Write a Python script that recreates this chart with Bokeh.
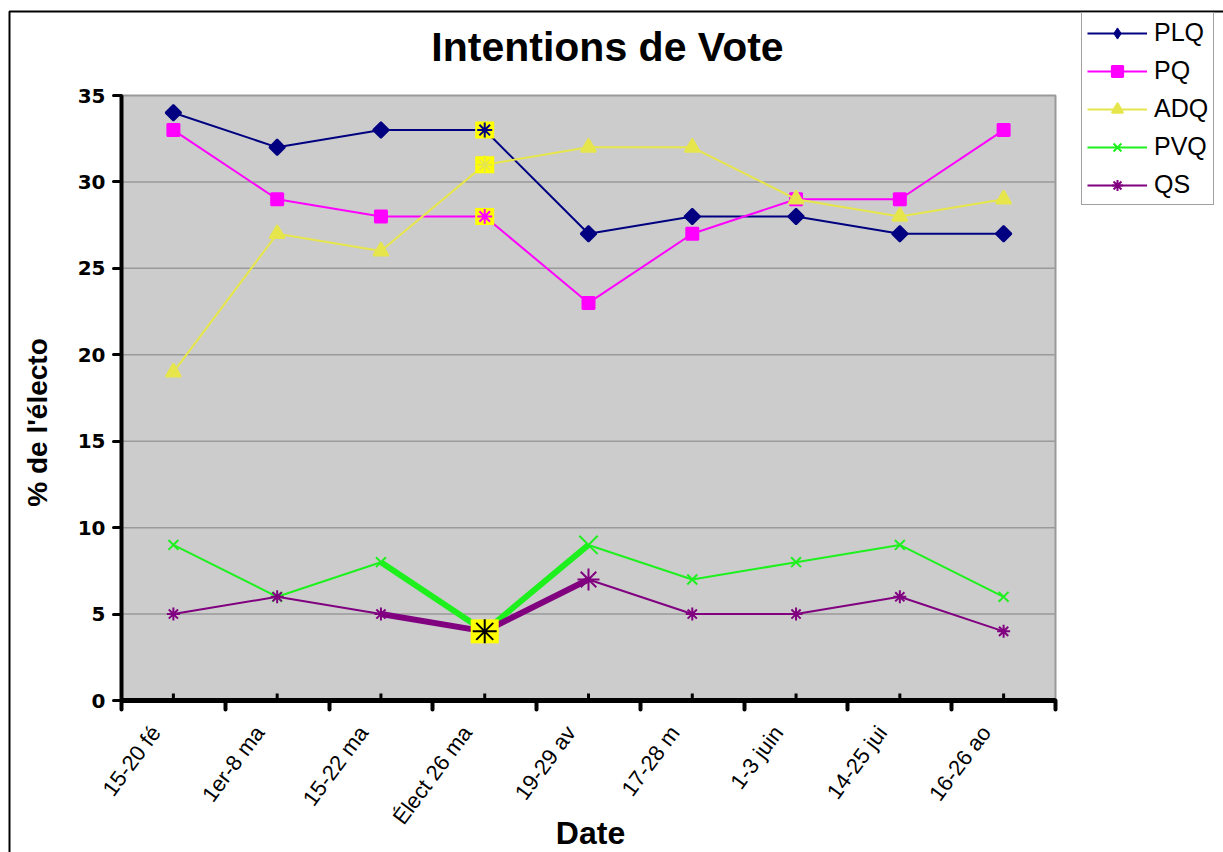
import numpy as np
from bokeh.plotting import figure
from bokeh.models import (Range1d, FixedTicker, Label, Legend, LegendItem, BoxAnnotation,
                          ColumnDataSource, CDSView, IndexFilter)
from bokeh.embed import file_html
from bokeh.resources import INLINE

# ---- data ----
categories = ["15-20 fé", "1er-8 ma", "15-22 ma", "Élect 26 ma", "19-29 av",
              "17-28 m", "1-3 juin", "14-25 jui", "16-26 ao"]
plq = [34, 32, 33, 33, 27, 28, 28, 27, 27]
pq = [33, 29, 28, 28, 23, 27, 29, 29, 33]
adq = [19, 27, 26, 31, 32, 32, 29, 28, 29]
pvq = [9, 6, 8, 4, 9, 7, 8, 9, 6]
qs = [5, 6, 5, 4, 7, 5, 5, 6, 4]
y_ticks = [0, 5, 10, 15, 20, 25, 30, 35]
series_names = ["PLQ", "PQ", "ADQ", "PVQ", "QS"]
title_text = "Intentions de Vote"
x_label = "Date"
y_label = "% de l'électo"

ELECT = 3   # highlighted category (election)
AFTER = 4   # category after the election

# ---- layout (page pixels) ----
W, H = 1223, 852
PA_LEFT, PA_RIGHT, PA_TOP, PA_BOTTOM = 121, 1055, 95, 700
LABEL_SHIFT = 0.17   # category labels sit slightly left of the category centre

n = len(categories)
ymax = y_ticks[-1]
x = np.arange(n) + 0.5
ux = (PA_RIGHT - PA_LEFT) / n
uy = (PA_BOTTOM - PA_TOP) / ymax

p = figure(width=W, height=H, output_backend="svg", toolbar_location=None,
           x_range=Range1d(-PA_LEFT / ux, n + (W - PA_RIGHT) / ux),
           y_range=Range1d(-(H - PA_BOTTOM) / uy, ymax + PA_TOP / uy),
           min_border=0)
p.background_fill_color = "white"
p.border_fill_color = "white"
p.outline_line_color = None
p.grid.visible = False

# outer chart border (only top/left visible in the window)
p.add_layout(BoxAnnotation(left=9, right=3000, top=H - 11, bottom=-500,
                           left_units="screen", right_units="screen",
                           top_units="screen", bottom_units="screen",
                           fill_color=None, fill_alpha=0, line_color="black",
                           line_alpha=1, line_width=2))

# plot area
p.quad(left=[0], right=[n], bottom=[0], top=[ymax], fill_color="#CCCCCC",
       line_color="#999999", line_width=2)
grid_vals = y_ticks[1:-1]
p.segment(x0=[0] * len(grid_vals), x1=[n] * len(grid_vals), y0=grid_vals, y1=grid_vals,
          line_color="#9A9A9A", line_width=1.5)

# y axis
ya = p.yaxis[0]
ya.fixed_location = 0
ya.bounds = (0, ymax)
ya.ticker = FixedTicker(ticks=y_ticks)
ya.axis_line_width = 4
ya.axis_line_color = "black"
ya.major_tick_out = 8
ya.major_tick_in = 0
ya.major_tick_line_width = 3
ya.major_tick_line_cap = "round"
ya.minor_tick_line_color = None
ya.major_label_text_font = "DejaVu Sans"
ya.major_label_text_font_style = "bold"
ya.major_label_text_font_size = "20px"
ya.major_label_text_color = "black"
ya.major_label_standoff = 8

# x axis
label_pos = x - LABEL_SHIFT
xa = p.xaxis[0]
xa.fixed_location = 0
xa.bounds = (0, n)
xa.ticker = FixedTicker(ticks=list(label_pos), minor_ticks=list(range(n + 1)))
xa.major_label_overrides = {float(xv): c for xv, c in zip(label_pos, categories)}
xa.axis_line_width = 5
xa.axis_line_color = "black"
xa.major_tick_in = 0
xa.major_tick_out = 0
xa.major_tick_line_color = None
xa.minor_tick_out = 9
xa.minor_tick_in = 0
xa.minor_tick_line_width = 4
xa.minor_tick_line_color = "black"
xa.minor_tick_line_cap = "round"
xa.major_label_orientation = 0.93
xa.major_label_text_font = "Liberation Sans"
xa.major_label_text_font_size = "22px"
xa.major_label_text_color = "black"
xa.major_label_standoff = 19

# small marks at category centres on the axis
p.ray(x=x, y=[0] * n, length=7, angle=np.pi / 2, length_units="screen",
      line_color="black", line_width=3)

colors = {"PLQ": "#000080", "PQ": "#FF00FF", "ADQ": "#E6E64C",
          "PVQ": "#1EF01E", "QS": "#800080"}
markers = {"PLQ": "square", "PQ": "square", "ADQ": "triangle",
           "PVQ": "x", "QS": "asterisk"}
legend_markers = {"PLQ": "diamond", "PQ": "square", "ADQ": "triangle",
                  "PVQ": "x", "QS": "asterisk"}
angles = {"PLQ": np.pi / 4, "PQ": 0, "ADQ": 0, "PVQ": 0, "QS": 0}
msizes = {"PLQ": 11, "PQ": 12, "ADQ": 15, "PVQ": 14, "QS": 13}
lsizes = {"PLQ": 15, "PQ": 12, "ADQ": 15, "PVQ": 14, "QS": 14}
lwidths = {"PLQ": 1, "PQ": 2, "ADQ": 2, "PVQ": 2, "QS": 2}
data = {"PLQ": plq, "PQ": pq, "ADQ": adq, "PVQ": pvq, "QS": qs}

items = []
for name in series_names:
    vals = data[name]
    col = colors[name]
    src = ColumnDataSource(dict(x=x, y=vals))
    lr = p.line("x", "y", source=src, line_color=col, line_width=2)
    skip = {ELECT} if name in ("PLQ", "PQ", "ADQ") else {ELECT, AFTER}
    idx = [i for i in range(n) if i not in skip]
    p.scatter("x", "y", source=src, view=CDSView(filter=IndexFilter(idx)),
              marker=markers[name], size=msizes[name], angle=angles[name],
              fill_color=col, line_color=col, line_width=2)
    # legend-key marker; its single point lies under the highlight drawn below
    kr = p.scatter("x", "y", source=src, view=CDSView(filter=IndexFilter([ELECT])),
                   marker=legend_markers[name], size=lsizes[name],
                   fill_color=col, line_color=col, line_width=lwidths[name])
    items.append(LegendItem(label=name, renderers=[lr, kr]))

# thick segments around the election
for name in ("PVQ", "QS"):
    vals = data[name]
    p.line(x[ELECT - 1:AFTER + 1], vals[ELECT - 1:AFTER + 1],
           line_color=colors[name], line_width=6, line_join="round")

# highlighted election points
for name in ("PLQ", "ADQ", "PQ"):
    vals = data[name]
    p.rect([x[ELECT]], [vals[ELECT]], width=19, height=17, width_units="screen",
           height_units="screen", fill_color="#FFFF00", line_color=None)
    p.scatter([x[ELECT]], [vals[ELECT]], marker="asterisk", size=15,
              line_color=colors[name], line_width=2)

p.rect([x[ELECT]], [pvq[ELECT]], width=28, height=24, width_units="screen",
       height_units="screen", fill_color="#FFFF00", line_color=None)
p.scatter([x[ELECT]], [qs[ELECT]], marker="asterisk", size=24,
          line_color="black", line_width=2)

p.scatter([x[AFTER]], [pvq[AFTER]], marker="x", size=26,
          line_color=colors["PVQ"], line_width=2)
p.scatter([x[AFTER]], [qs[AFTER]], marker="asterisk", size=22,
          line_color=colors["QS"], line_width=2)

legend = Legend(items=items, location=(1081, H - 205), orientation="vertical")
legend.border_line_color = "#444444"
legend.border_line_width = 1.5
legend.background_fill_color = "white"
legend.background_fill_alpha = 1
legend.label_text_font = "Liberation Sans"
legend.label_text_font_size = "25px"
legend.label_text_color = "black"
legend.glyph_width = 60
legend.glyph_height = 28
legend.label_height = 28
legend.spacing = 9
legend.padding = 5
legend.margin = 0
legend.label_standoff = 7
p.add_layout(legend, "center")

p.add_layout(Label(x=607, y=H - 46, x_units="screen", y_units="screen",
                   text=title_text, text_font="Liberation Sans",
                   text_font_style="bold", text_font_size="41px",
                   text_align="center", text_baseline="middle", text_color="black"))
p.add_layout(Label(x=590, y=H - 832, x_units="screen", y_units="screen",
                   text=x_label, text_font="Liberation Sans",
                   text_font_style="bold", text_font_size="32px",
                   text_align="center", text_baseline="middle", text_color="black"))
p.add_layout(Label(x=37, y=H - 422, x_units="screen", y_units="screen",
                   text=y_label, text_font="Liberation Sans",
                   text_font_style="bold", text_font_size="28px", angle=np.pi / 2,
                   text_align="center", text_baseline="middle", text_color="black"))

open("out.html", "w").write(file_html(p, INLINE))
